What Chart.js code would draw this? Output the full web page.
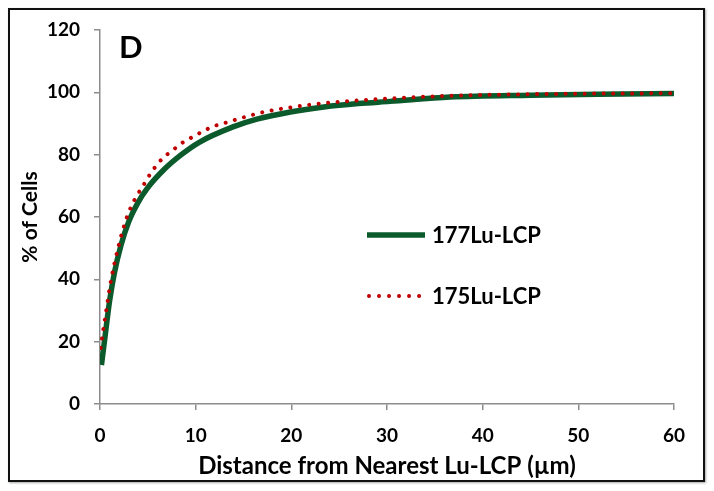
<!DOCTYPE html>
<html>
<head>
<meta charset="utf-8">
<script src="https://cdn.jsdelivr.net/npm/chart.js@4.4.0/dist/chart.umd.min.js"></script>
<style>
  html, body { margin: 0; padding: 0; background: #fff; }
  #wrap { position: relative; width: 714px; height: 491px; }
  #frame {
    position: absolute; left: 8px; top: 8px; width: 693px; height: 470px;
    border: 2px solid #111; box-shadow: 1px 1px 2px rgba(0,0,0,0.35);
    pointer-events: none;
  }
  canvas { position: absolute; left: 0; top: 0; }
</style>
</head>
<body>
<div id="wrap">
  <canvas id="chart" width="714" height="491"></canvas>
  <div id="frame"></div>
</div>
<script>
// values
const panelLabel = 'D';
const seriesNames = ['177Lu-LCP', '175Lu-LCP'];

const x177 = [0.15, 0.5, 1.0, 1.5, 2.2, 3.0, 4.0, 4.94, 6.72, 8.5, 10.33, 13.9, 16.4, 19.9, 23.4, 27, 30.3, 36.6, 45, 52, 60];
const y177 = [12.5, 21, 33, 42, 51, 58.5, 64.8, 69.2, 75.3, 80, 83.9, 88.9, 91.4, 93.7, 95.3, 96.4, 97.1, 98.5, 99.1, 99.4, 99.6];

const x175 = [0.07, 0.2, 0.4, 0.6, 0.8, 1.0, 1.2, 1.5, 1.9, 2.4, 3.0, 3.86, 4.5, 5.47, 6.6, 7.44, 8.5, 9.94, 11.7, 13.2, 17, 20, 23.7, 27.5, 30, 36.6, 45, 52, 60];
const y175 = [18, 21, 25, 29, 33, 37, 40.5, 45, 50.2, 56, 61.5, 66.9, 70, 74.8, 79, 81, 83.6, 86.1, 88.9, 90.3, 93.6, 95.2, 96.6, 97.5, 98, 98.9, 99.4, 99.6, 99.7];

const xTitle = 'Distance from Nearest Lu-LCP (µm)';
const yTitle = '% of Cells';

const green = '#0b5a2c';
const red = '#c00000';
const axisGray = '#8c8c8c';
const fontFamily = 'Lato, "Open Sans", sans-serif';

// Panel letter + in-plot legend
const annotate = {
    id: 'annotate',
    afterDraw(chart) {
        const ctx = chart.ctx;
        ctx.save();
        ctx.fillStyle = '#000';
        ctx.font = `bold 31px ${fontFamily}`;
        ctx.textBaseline = 'alphabetic';
        ctx.fillText(panelLabel, 119, 58);

        // legend swatches
        ctx.lineWidth = 5.5;
        ctx.strokeStyle = green;
        ctx.lineCap = 'butt';
        ctx.beginPath();
        ctx.moveTo(367, 235);
        ctx.lineTo(425, 235);
        ctx.stroke();

        ctx.lineWidth = 4;
        ctx.strokeStyle = red;
        ctx.lineCap = 'round';
        ctx.setLineDash([0.01, 10]);
        ctx.beginPath();
        ctx.moveTo(369, 296);
        ctx.lineTo(421, 296);
        ctx.stroke();
        ctx.setLineDash([]);

        ctx.font = `bold 22px ${fontFamily}`;
        ctx.textBaseline = 'middle';
        ctx.fillText(seriesNames[0], 432, 236);
        ctx.fillText(seriesNames[1], 432, 297);
        ctx.restore();
    }
};

new Chart(document.getElementById('chart'), {
    type: 'line',
    data: {
        datasets: [{
            label: seriesNames[0],
            data: x177.map((x, i) => ({ x: x, y: y177[i] })),
            borderColor: green,
            borderWidth: 5.5,
            borderCapStyle: 'butt',
            pointRadius: 0,
            cubicInterpolationMode: 'monotone',
            order: 2
        }, {
            label: seriesNames[1],
            data: x175.map((x, i) => ({ x: x, y: y175[i] })),
            borderColor: red,
            borderWidth: 4,
            borderDash: [0.01, 9.5],
            borderCapStyle: 'round',
            pointRadius: 0,
            cubicInterpolationMode: 'monotone',
            order: 1
        }]
    },
    options: {
        responsive: false,
        animation: false,
        devicePixelRatio: 1,
        layout: { padding: { left: 0, top: 30, right: 40, bottom: 0 } },
        plugins: {
            legend: { display: false },
            tooltip: { enabled: false }
        },
        scales: {
            x: {
                type: 'linear',
                min: 0,
                max: 60,
                afterFit: s => { s.height = 87; },
                border: { color: axisGray, width: 1.5 },
                grid: { drawOnChartArea: false, drawTicks: true, tickLength: 6, color: axisGray, lineWidth: 1.5 },
                ticks: {
                    stepSize: 10,
                    color: '#000',
                    padding: 14,
                    maxRotation: 0,
                    font: { family: fontFamily, size: 19, weight: 'bold' }
                },
                title: {
                    display: true,
                    text: xTitle,
                    color: '#000',
                    padding: { top: 0, bottom: 10 },
                    font: { family: fontFamily, size: 24, weight: 'bold' }
                }
            },
            y: {
                min: 0,
                max: 120,
                afterFit: s => { s.width = 100; },
                border: { color: axisGray, width: 1.5 },
                grid: { drawOnChartArea: false, drawTicks: true, tickLength: 6, color: axisGray, lineWidth: 1.5 },
                ticks: {
                    stepSize: 20,
                    color: '#000',
                    padding: 14,
                    font: { family: fontFamily, size: 19, weight: 'bold' }
                },
                title: {
                    display: true,
                    text: yTitle,
                    color: '#000',
                    padding: { top: 18, bottom: 0 },
                    font: { family: fontFamily, size: 21, weight: 'bold' }
                }
            }
        }
    },
    plugins: [annotate]
});
</script>
</body>
</html>
